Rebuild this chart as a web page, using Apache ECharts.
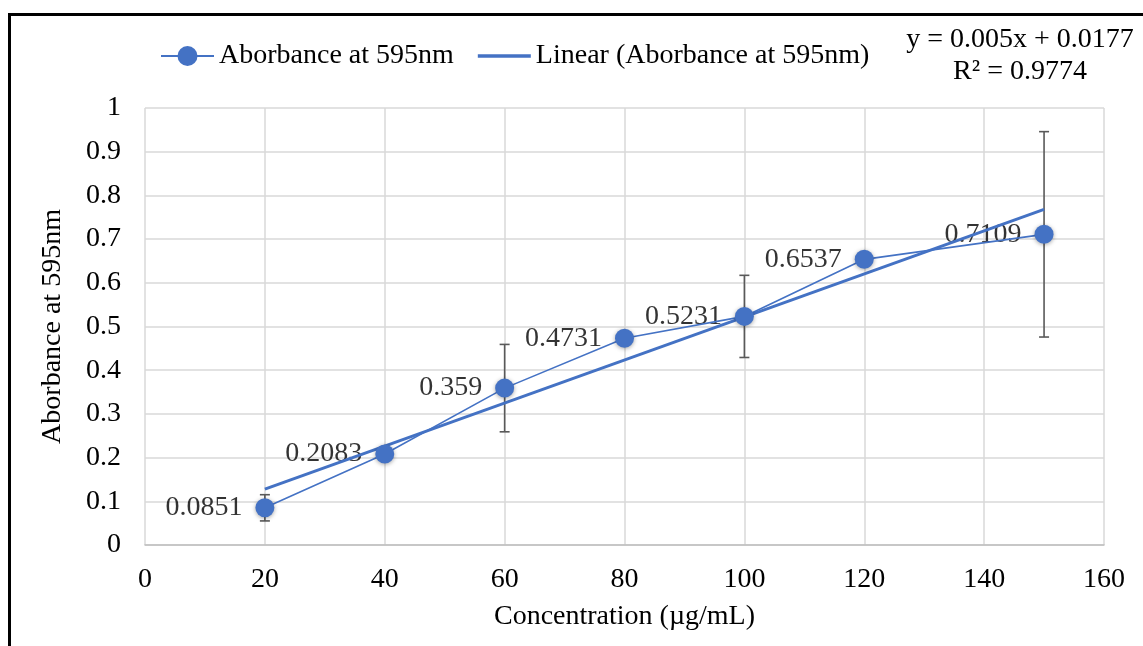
<!DOCTYPE html>
<html>
<head>
<meta charset="utf-8">
<script src="https://cdn.jsdelivr.net/npm/echarts@6/dist/echarts.min.js"></script>
<style>
  html, body { margin: 0; padding: 0; background: #fff; }
  #chart { width: 1143px; height: 646px; }
</style>
</head>
<body>
<div id="chart"></div>
<script>
// ---- data ----
const concentrations = [20, 40, 60, 80, 100, 120, 150];
const absorbance = [0.0851, 0.2083, 0.359, 0.4731, 0.5231, 0.6537, 0.7109];
const errorValues = [0.03, 0, 0.1, 0, 0.094, 0, 0.235];
const trendX = [20, 150];
const trendY = [0.128, 0.768];
const equationText = 'y = 0.005x + 0.0177';
const r2Text = 'R² = 0.9774';
const seriesName = 'Aborbance at 595nm';
const trendName = 'Linear (Aborbance at 595nm)';

const FONT = 'Liberation Serif';
const BLUE = '#4472C4';
const FS = 28;

const pointData = concentrations.map((x, i) => [x, absorbance[i]]);
const errData = concentrations.map((x, i) => [x, absorbance[i], errorValues[i]]);
const trendData = trendX.map((x, i) => [x, trendY[i]]);

const chart = echarts.init(document.getElementById('chart'), null, { renderer: 'canvas' });

const option = {
  backgroundColor: '#ffffff',
  animation: false,
  textStyle: { fontFamily: FONT },
  grid: { left: 145, right: 39, top: 108, bottom: 101 },
  legend: {
    data: [
      { name: seriesName },
      { name: trendName, icon: 'path://M0,0L53,0L53,3.5L0,3.5Z', itemStyle: { color: BLUE } }
    ],
    left: 155,
    top: 37,
    itemWidth: 53,
    itemHeight: 25,
    itemGap: 24,
    textStyle: { fontFamily: FONT, fontSize: FS, color: '#000' }
  },
  graphic: [
    {
      type: 'rect',
      silent: true,
      shape: { x: 9.5, y: 14.5, width: 3000, height: 3000 },
      style: { fill: 'none', stroke: '#000', lineWidth: 3 },
      z: 100
    },
    {
      type: 'text',
      silent: true,
      x: 1020, y: 40,
      style: { text: equationText, align: 'center', verticalAlign: 'middle', font: FS + 'px "' + FONT + '"', fill: '#000' }
    },
    {
      type: 'text',
      silent: true,
      x: 1020, y: 72,
      style: { text: r2Text, align: 'center', verticalAlign: 'middle', font: FS + 'px "' + FONT + '"', fill: '#000' }
    }
  ],
  xAxis: {
    type: 'value',
    min: 0, max: 160, interval: 20,
    name: 'Concentration (µg/mL)',
    nameLocation: 'middle',
    nameGap: 58,
    nameTextStyle: { fontFamily: FONT, fontSize: FS, color: '#000' },
    axisLine: { show: true, lineStyle: { color: '#bfbfbf', width: 1.5 } },
    axisTick: { show: false },
    axisLabel: { fontFamily: FONT, fontSize: FS, color: '#000', margin: 21 },
    splitLine: { show: true, lineStyle: { color: '#d9d9d9', width: 1.5 } }
  },
  yAxis: {
    type: 'value',
    min: 0, max: 1, interval: 0.1,
    name: 'Aborbance at 595nm',
    nameLocation: 'middle',
    nameGap: 78,
    nameRotate: 90,
    nameTextStyle: { fontFamily: FONT, fontSize: FS, color: '#000' },
    axisLine: { show: false },
    axisTick: { show: false },
    axisLabel: { fontFamily: FONT, fontSize: FS, color: '#000', margin: 24 },
    splitLine: { show: true, lineStyle: { color: '#d9d9d9', width: 1.5 } }
  },
  series: [
    {
      name: 'labels',
      type: 'scatter',
      data: pointData,
      symbolSize: 19,
      itemStyle: { color: 'rgba(0,0,0,0)' },
      z: 1,
      silent: true,
      label: {
        show: true,
        position: 'left',
        distance: 13,
        fontFamily: FONT,
        fontSize: FS,
        color: '#000',
        textBorderWidth: 0,
        formatter: p => String(p.value[1])
      }
    },
    {
      name: 'errors',
      type: 'custom',
      z: 2,
      silent: true,
      data: errData,
      renderItem: function (params, api) {
        const x = api.value(0), y = api.value(1), e = api.value(2);
        if (!e) return { type: 'group', children: [] };
        const top = api.coord([x, y + e]);
        const bot = api.coord([x, y - e]);
        const cap = 5;
        const style = { stroke: '#595959', lineWidth: 1.6 };
        return {
          type: 'group',
          children: [
            { type: 'line', shape: { x1: top[0], y1: top[1], x2: bot[0], y2: bot[1] }, style },
            { type: 'line', shape: { x1: top[0] - cap, y1: top[1], x2: top[0] + cap, y2: top[1] }, style },
            { type: 'line', shape: { x1: bot[0] - cap, y1: bot[1], x2: bot[0] + cap, y2: bot[1] }, style }
          ]
        };
      }
    },
    {
      name: trendName,
      type: 'line',
      data: trendData,
      symbol: 'none',
      z: 3,
      lineStyle: { color: BLUE, width: 3 },
      itemStyle: { color: BLUE }
    },
    {
      name: seriesName,
      type: 'line',
      data: pointData,
      symbol: 'circle',
      symbolSize: 19,
      z: 4,
      lineStyle: { color: BLUE, width: 1.6 },
      itemStyle: { color: BLUE, shadowBlur: 4, shadowColor: 'rgba(0,0,0,0.35)', shadowOffsetY: 1 }
    }
  ]
};

chart.setOption(option);
</script>
</body>
</html>
